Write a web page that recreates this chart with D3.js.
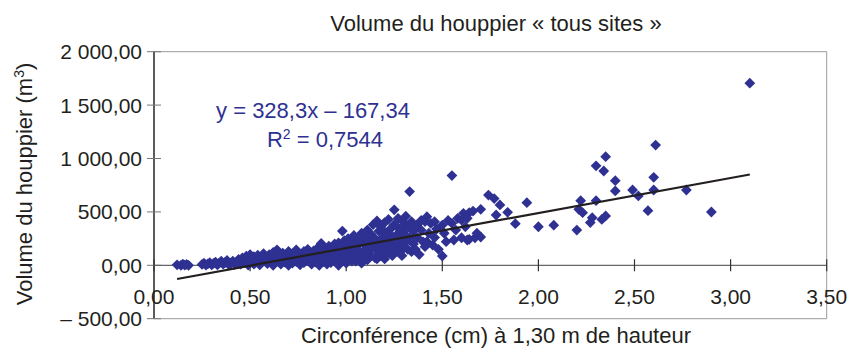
<!DOCTYPE html>
<html>
  <head>
    <meta charset="utf-8">
    <title>Volume du houppier « tous sites »</title>
    <script src="https://d3js.org/d3.v7.min.js"></script>
    <style>
      body { margin: 0; background: #fff; }
      text { font-family: "Liberation Sans", Arial, Helvetica, sans-serif; fill: #231f20; }
    </style>
  </head>
  <body>
    <div id="chart"></div>

    <script>

        // circonférence (m) , volume (m3)
        const pointsSmall = [
            [0.12,5],[0.14,0],[0.15,12],[0.16,2],[0.17,8],[0.18,0],
            [0.25,8],[0.26,20],[0.27,2],[0.28,14],[0.29,25],[0.30,5],[0.31,18],[0.32,30],[0.33,3],
            [0.34,22],[0.35,38],[0.36,10],[0.37,28],[0.38,45],[0.39,4],[0.40,20],[0.41,40],[0.42,8],
            [0.43,32],[0.44,55],[0.45,12],[0.46,70],[0.47,25],[0.48,85],[0.49,2],[0.49,45]
        ]
        const pointsMid = [
            [0.50,30],[0.50,100],[0.51,60],[0.52,10],[0.52,80],[0.53,40],[0.54,95],[0.55,5],[0.55,60],
            [0.56,25],[0.57,110],[0.58,45],[0.58,80],[0.59,15],[0.60,65],[0.60,100],[0.61,30],[0.62,120],
            [0.62,0],[0.63,75],[0.64,145],[0.64,40],[0.65,95],[0.66,10],[0.66,60],[0.67,115],[0.68,30],
            [0.69,85],[0.70,130],[0.70,0],[0.71,50],[0.72,100],[0.72,20],[0.73,70],[0.74,145],[0.74,35],
            [0.75,110],[0.76,5],[0.76,60],[0.77,90],[0.78,130],[0.78,25],[0.79,75],[0.80,150],[0.80,45],
            [0.81,105],[0.82,10],[0.82,70],[0.83,135],[0.84,30],[0.84,95],[0.85,160],[0.86,55],[0.86,0],
            [0.87,205],[0.87,115],[0.88,35],[0.88,80],[0.89,150],[0.90,10],[0.90,110]
        ]
        const pointsDense = [
            [0.91,60],[0.91,180],[0.92,25],[0.93,130],[0.93,90],[0.94,200],[0.95,45],[0.95,150],[0.96,210],
            [0.96,0],[0.97,100],[0.97,170],[0.98,320],[0.98,60],[0.99,230],[0.99,130],[1.00,20],[1.00,190],
            [1.01,80],[1.01,250],[1.02,150],[1.03,40],[1.03,210],[1.04,110],[1.04,280],[1.05,170],[1.06,60],
            [1.06,240],[1.07,130],[1.08,300],[1.08,20],[1.09,200],[1.09,90],[1.10,260],[1.10,150],[1.11,50],
            [1.11,330],[1.12,220],[1.12,110],[1.13,290],[1.14,170],[1.14,380],[1.15,70],[1.15,250],[1.16,415],
            [1.16,140],[1.17,320],[1.17,200],[1.18,90],[1.18,360],[1.19,260],[1.19,160],[1.20,400],[1.20,60],
            [1.21,300],[1.21,200],[1.22,120],[1.22,430],[1.23,340],[1.23,240],[1.24,170],[1.24,90],[1.25,520],
            [1.25,380],[1.26,280],[1.26,200],[1.27,130],[1.27,440],[1.28,340],[1.28,250],[1.29,180],[1.29,90],
            [1.30,400],[1.30,300],[1.31,220],[1.31,460],[1.32,150],[1.32,360],[1.33,690],[1.33,260],[1.34,127],
            [1.34,410],[1.35,200],[1.35,320],
            [0.94,110],[0.97,30],[1.02,100],[1.05,40],[1.07,210],[1.10,100],[1.13,180],[1.16,60],[1.19,330],
            [1.21,110],[1.24,270],[1.27,350],[1.30,160],[1.33,350]
        ]
        const pointsLarge = [
            [1.36,150],[1.37,380],[1.37,260],[1.38,100],[1.39,420],[1.39,330],[1.40,220],[1.41,410],[1.41,174],
            [1.42,455],[1.42,221],[1.43,300],[1.44,393],[1.45,190],[1.46,408],[1.46,260],[1.47,340],[1.48,150],
            [1.50,377],[1.50,87],[1.51,300],[1.52,221],[1.53,420],[1.55,393],[1.55,840],[1.56,237],[1.57,330],
            [1.58,440],[1.60,258],[1.60,424],[1.61,487],[1.62,360],[1.63,440],[1.63,237],[1.64,493],[1.64,243],
            [1.66,508],[1.67,258],[1.68,300],[1.70,524],[1.70,265],[1.74,658],[1.77,625],[1.78,471],[1.80,565],
            [1.84,496],[1.88,390],[1.94,586],[2.00,361],[2.08,376]
        ]
        const pointsHuge = [
            [2.20,330],[2.21,524],[2.22,605],[2.23,493],[2.27,400],[2.28,446],[2.30,605],[2.30,932],[2.33,430],
            [2.34,883],[2.35,462],[2.35,1017],[2.40,696],[2.40,792],[2.49,705],[2.52,649],[2.57,511],[2.60,705],
            [2.60,824],[2.61,1126],[2.77,705],[2.90,499],[3.10,1705]
        ]

        const xTicks = [0, 0.5, 1, 1.5, 2, 2.5, 3, 3.5]
        const yTicks = [-500, 0, 500, 1000, 1500, 2000]

        // trend line from the chart : y = 328,3x - 167,34
        const slope = 328.3, intercept = -167.34

        const width = 862, height = 352,
              margin = {top: 51.7, right: 35.3, bottom: 33.3, left: 154}

        let svg = d3.select("#chart").append("svg")
                .attr("width", width)
                .attr("height", height)

        let x = d3.scaleLinear().domain([0, 3.5]).range([margin.left, width - margin.right]),
            y = d3.scaleLinear().domain([-500, 2000]).range([height - margin.bottom, margin.top])

        let fmt = v => {
            let s = d3.format(",.2f")(Math.abs(v)).replace(/,/g, " ").replace(".", ",")
            return v < 0 ? "\u2013 " + s : s
        }

        // frame (light grey, top/right/bottom)
        svg.append("path")
            .attr("d", `M${x(0)},${y(2000)} H${x(3.5)} V${y(-500)} H${x(0)}`)
            .attr("fill", "none")
            .attr("stroke", "#9a9a9a")
            .attr("stroke-width", 1)

        // y axis
        svg.append("line")
            .attr("x1", x(0)).attr("x2", x(0))
            .attr("y1", y(2000)).attr("y2", y(-500))
            .attr("stroke", "#333").attr("stroke-width", 1.6)

        svg.selectAll(".ytick")
            .data(yTicks)
            .enter().append("line")
            .attr("class", "ytick")
            .attr("x1", x(0) - 7).attr("x2", x(0) + 7)
            .attr("y1", d => y(d)).attr("y2", d => y(d))
            .attr("stroke", "#777").attr("stroke-width", 1)

        svg.selectAll(".ylab")
            .data(yTicks)
            .enter().append("text")
            .attr("class", "ylab")
            .attr("x", x(0) - 12)
            .attr("y", d => y(d))
            .attr("dy", "0.36em")
            .attr("text-anchor", "end")
            .style("font-size", "21px")
            .text(fmt)

        // x axis sits on y = 0
        svg.append("line")
            .attr("x1", x(0)).attr("x2", x(3.5))
            .attr("y1", y(0)).attr("y2", y(0))
            .attr("stroke", "#666").attr("stroke-width", 1.2)

        svg.selectAll(".xtick")
            .data(xTicks)
            .enter().append("line")
            .attr("class", "xtick")
            .attr("x1", d => x(d)).attr("x2", d => x(d))
            .attr("y1", y(0) - 6).attr("y2", y(0) + 6)
            .attr("stroke", "#333").attr("stroke-width", 1.2)

        svg.selectAll(".xlab")
            .data(xTicks)
            .enter().append("text")
            .attr("class", "xlab")
            .attr("x", d => x(d))
            .attr("y", 304)
            .attr("text-anchor", "middle")
            .style("font-size", "21px")
            .text(d => d3.format(".2f")(d).replace(".", ","))

        // points
        let points = [].concat(pointsSmall, pointsMid, pointsDense, pointsLarge, pointsHuge)

        svg.append("g").selectAll("path")
            .data(points)
            .enter().append("path")
            .attr("d", d3.symbol().type(d3.symbolDiamond2).size(74))
            .attr("transform", d => `translate(${x(d[0])},${y(d[1])})`)
            .attr("fill", "#2e3192")

        // trend line
        let ext = d3.extent(points, d => d[0])
        svg.append("path")
            .datum(ext)
            .attr("d", d3.line().x(d => x(d)).y(d => y(slope * d + intercept)))
            .attr("stroke", "#231f20")
            .attr("stroke-width", 2.2)
            .attr("fill", "none")

        // equation
        let eq = svg.append("text")
            .attr("x", 313)
            .attr("y", 118)
            .attr("text-anchor", "middle")
            .style("font-size", "22px")
            .style("fill", "#2e3192")
        eq.text("y = 328,3x \u2013 167,34")

        let r2 = svg.append("text")
            .attr("x", 325)
            .attr("y", 147)
            .attr("text-anchor", "middle")
            .style("font-size", "22px")
            .style("fill", "#2e3192")
        r2.append("tspan").text("R")
        r2.append("tspan").attr("dy", -8).style("font-size", "14px").text("2")
        r2.append("tspan").attr("dy", 8).text(" = 0,7544")

        // titles
        svg.append("text")
            .attr("x", 496)
            .attr("y", 31)
            .attr("text-anchor", "middle")
            .style("font-size", "22px")
            .text("Volume du houppier \u00ab tous sites \u00bb")

        svg.append("text")
            .attr("x", 496)
            .attr("y", 343)
            .attr("text-anchor", "middle")
            .style("font-size", "22px")
            .text("Circonférence (cm) à 1,30 m de hauteur")

        let yt = svg.append("text")
            .attr("transform", "translate(32,184) rotate(-90)")
            .attr("text-anchor", "middle")
            .style("font-size", "22px")
        yt.append("tspan").text("Volume du houppier (m")
        yt.append("tspan").attr("dy", -8).style("font-size", "14px").text("3")
        yt.append("tspan").attr("dy", 8).text(")")

    </script>
  </body>
</html>
